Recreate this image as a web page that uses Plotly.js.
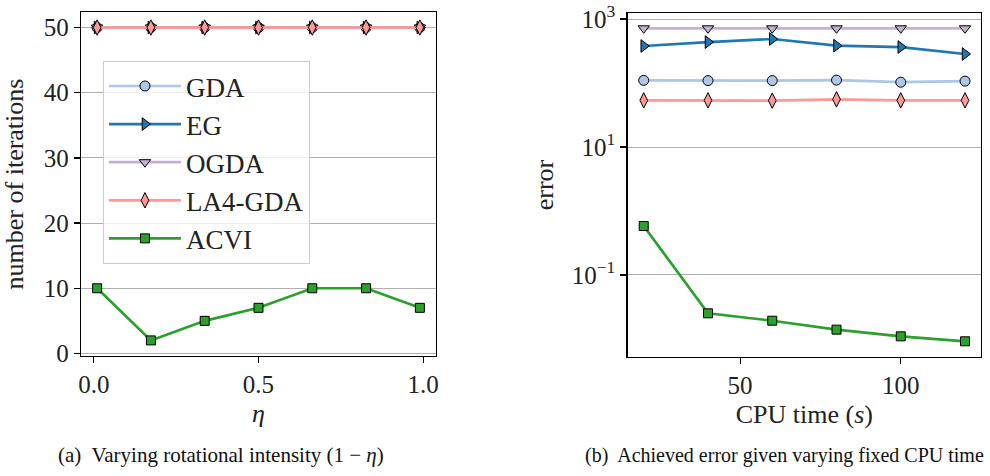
<!DOCTYPE html>
<html><head><meta charset="utf-8">
<script src="https://cdn.plot.ly/plotly-3.0.1.min.js"></script>
<style>html,body{margin:0;padding:0;background:#fff}#chart{width:990px;height:476px}</style>
</head><body><div id="chart"></div>
<script>
// ---- data ----
const seriesNames = ['GDA', 'EG', 'OGDA', 'LA4-GDA', 'ACVI'];
const eta = [0.01, 0.1733, 0.3367, 0.5, 0.6633, 0.8267, 0.99];
const itersGDA  = [50, 50, 50, 50, 50, 50, 50];
const itersEG   = [50, 50, 50, 50, 50, 50, 50];
const itersOGDA = [50, 50, 50, 50, 50, 50, 50];
const itersLA4  = [50, 50, 50, 50, 50, 50, 50];
const itersACVI = [10, 2, 5, 7, 10, 10, 7];

const cpuTime = [20, 40, 60, 80, 100, 120];
const errGDA  = [110, 109, 109, 111, 103, 107];
const errEG   = [379, 437, 487, 383, 365, 284];
const errOGDA = [716, 716, 716, 716, 716, 716];
const errLA4  = [53.6, 53.6, 53.0, 55.6, 53.6, 53.6];
const errACVI = [0.583, 0.0252, 0.0193, 0.0140, 0.0110, 0.0092];

const xTicksLeft = [0, 0.5, 1.0];
const xTickTextLeft = ['0.0', '0.5', '1.0'];
const yTicksLeft = [0, 10, 20, 30, 40, 50];
const xTicksRight = [50, 100];
const yTicksRight = [0.1, 10, 1000];
const yTickTextRight = ['10<sup>−1</sup>', '10<sup>1</sup>', '10<sup>3</sup>'];

// ---- styles ----
const colors  = ['#aec7e8', '#1f77b4', '#c5b0d5', '#ff9896', '#2ca02c'];
const symbols = ['circle', 'triangle-right', 'triangle-down', 'diamond-tall', 'square'];
const sizes   = [10, 11, 10, 11, 9];

const leftY  = [itersGDA, itersEG, itersOGDA, itersLA4, itersACVI];
const rightY = [errGDA, errEG, errOGDA, errLA4, errACVI];

const traces = [];
seriesNames.forEach((n, i) => {
  traces.push({
    x: eta, y: leftY[i], name: n, type: 'scatter', mode: 'lines+markers',
    xaxis: 'x', yaxis: 'y', showlegend: true,
    line: {color: colors[i], width: 2.7},
    marker: {symbol: symbols[i], size: sizes[i], color: colors[i], line: {color: '#000', width: 1}}
  });
});
seriesNames.forEach((n, i) => {
  traces.push({
    x: cpuTime, y: rightY[i], name: n, type: 'scatter', mode: 'lines+markers',
    xaxis: 'x2', yaxis: 'y2', showlegend: false,
    line: {color: colors[i], width: 2.7},
    marker: {symbol: symbols[i], size: sizes[i], color: colors[i], line: {color: '#000', width: 1}}
  });
});

const FONT = 'Liberation Serif, Times New Roman, serif';
const axBase = {
  showline: true, mirror: true, linecolor: '#000', linewidth: 1.3,
  ticks: 'outside', ticklen: 6, tickwidth: 1.2, tickcolor: '#000',
  zeroline: false, tickfont: {family: FONT, size: 25, color: '#222'}
};

const layout = {
  width: 990, height: 476,
  margin: {l: 0, r: 0, t: 0, b: 0},
  paper_bgcolor: '#fff', plot_bgcolor: '#fff',
  font: {family: FONT, color: '#222'},
  xaxis: Object.assign({}, axBase, {
    domain: [0.0818, 0.4404], anchor: 'y', range: [-0.039, 1.039],
    tickvals: xTicksLeft, ticktext: xTickTextLeft, showgrid: false,
    title: {text: '<i>η</i>', font: {family: FONT, size: 26}, standoff: 6}
  }),
  yaxis: Object.assign({}, axBase, {
    domain: [0.252, 0.975], anchor: 'x', range: [-0.4, 52.4],
    tickvals: yTicksLeft, showgrid: true, gridcolor: '#b0b0b0', gridwidth: 1,
    title: {text: 'number of iterations', font: {family: FONT, size: 26}, standoff: 12}
  }),
  xaxis2: Object.assign({}, axBase, {
    domain: [0.634, 0.991], anchor: 'y2', range: [15, 125],
    tickvals: xTicksRight, showgrid: false,
    title: {text: 'CPU time (<i>s</i>)', font: {family: FONT, size: 26}, standoff: 6}
  }),
  yaxis2: Object.assign({}, axBase, {
    type: 'log', domain: [0.2506, 0.972], anchor: 'x2', range: [-2.277, 3.089],
    tickvals: yTicksRight, ticktext: yTickTextRight, showgrid: true, gridcolor: '#b0b0b0', gridwidth: 1,
    title: {text: 'error', font: {family: FONT, size: 26}, standoff: 10}
  }),
  legend: {
    x: 0.104, y: 0.872, xanchor: 'left', yanchor: 'top',
    bgcolor: 'rgba(255,255,255,0.8)', bordercolor: '#cccccc', borderwidth: 1,
    font: {family: FONT, size: 27, color: '#222'}, itemwidth: 72, tracegroupgap: 0
  },
  annotations: [
    {text: '(a)  Varying rotational intensity (1 − <i>η</i>)', xref: 'paper', yref: 'paper',
     x: 221 / 990, y: 1 - 455 / 476, xanchor: 'center', yanchor: 'middle', showarrow: false,
     font: {family: FONT, size: 21, color: '#111'}},
    {text: '(b)  Achieved error given varying fixed CPU time', xref: 'paper', yref: 'paper',
     x: 986 / 990, y: 1 - 455 / 476, xanchor: 'right', yanchor: 'middle', showarrow: false,
     font: {family: FONT, size: 20, color: '#111'}}
  ]
};

Plotly.newPlot('chart', traces, layout, {displayModeBar: false, staticPlot: true});
</script></body></html>
